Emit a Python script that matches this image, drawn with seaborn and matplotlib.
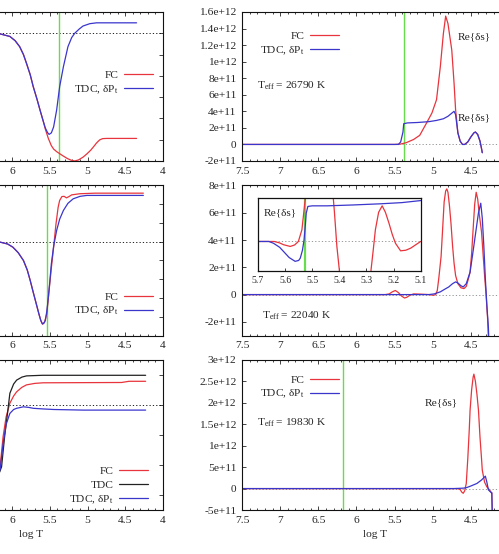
import matplotlib
matplotlib.use('Agg')
import matplotlib.pyplot as plt
import seaborn as sns
from matplotlib.ticker import MultipleLocator, FormatStrFormatter, FuncFormatter

#%%
# ------------------------------------------
#       Datos
# ------------------------------------------
# Columna izquierda (unidades arbitrarias, eje y fuera de la imagen)
iz1_logT_fc = [7.5, 6.6, 6.3, 6.16, 6.03, 5.96, 5.90, 5.85, 5.81, 5.76, 5.72, 5.67, 5.63, 5.59, 5.56, 5.52,
               5.48, 5.45, 5.41, 5.36, 5.32, 5.27, 5.22, 5.17, 5.12, 5.06, 5.01, 4.96, 4.92, 4.88, 4.84, 4.80,
               4.75, 4.35]
iz1_fc = [6.0, 6.0, 6.0, 5.97, 5.85, 5.65, 5.37, 5.0, 4.59, 4.05, 3.49, 2.9, 2.39, 1.9, 1.5, 1.06,
          0.72, 0.56, 0.44, 0.32, 0.23, 0.12, 0.04, 0.0, 0.05, 0.18, 0.33, 0.5, 0.67, 0.85, 0.99, 1.05,
          1.06, 1.06]
iz1_logT_tdc = [7.5, 6.6, 6.3, 6.16, 6.03, 5.96, 5.90, 5.85, 5.81, 5.76, 5.72, 5.67, 5.63, 5.59, 5.56, 5.53,
                5.51, 5.48, 5.45, 5.41, 5.37, 5.32, 5.26, 5.21, 5.17, 5.11, 5.06, 4.97, 4.88, 4.35]
iz1_tdc = [6.0, 6.0, 6.0, 5.97, 5.85, 5.65, 5.37, 5.0, 4.59, 4.05, 3.49, 2.9, 2.39, 1.9, 1.55, 1.33,
           1.25, 1.32, 1.6, 2.39, 3.49, 4.43, 5.37, 5.8, 6.0, 6.2, 6.34, 6.45, 6.49, 6.49]

iz2_logT_fc = [7.5, 6.5, 6.25, 6.16, 6.06, 5.99, 5.92, 5.85, 5.80, 5.76, 5.72, 5.68, 5.645, 5.62, 5.595, 5.57,
               5.54, 5.51, 5.48, 5.45, 5.42, 5.39, 5.37, 5.34, 5.31, 5.28, 5.25, 5.21, 5.1, 4.9, 4.26]
iz2_fc = [5.0, 5.0, 5.0, 4.98, 4.88, 4.71, 4.42, 4.0, 3.5, 2.93, 2.3, 1.69, 1.15, 0.8, 0.6, 0.72,
          1.16, 2.4, 3.6, 4.71, 5.9, 6.84, 7.2, 7.41, 7.42, 7.34, 7.4, 7.5, 7.56, 7.59, 7.59]
iz2_logT_tdc = [7.5, 6.5, 6.25, 6.16, 6.06, 5.99, 5.92, 5.85, 5.80, 5.76, 5.72, 5.68, 5.645, 5.62, 5.60, 5.58,
                5.56, 5.54, 5.52, 5.50, 5.48, 5.45, 5.41, 5.37, 5.32, 5.26, 5.19, 5.10, 5.01, 4.26]
iz2_tdc = [5.0, 5.0, 5.0, 4.98, 4.88, 4.71, 4.42, 4.0, 3.5, 2.93, 2.3, 1.69, 1.15, 0.8, 0.62, 0.65,
           0.8, 1.3, 2.04, 2.9, 3.82, 4.75, 5.6, 6.2, 6.67, 7.05, 7.29, 7.42, 7.47, 7.47]

iz3_logT_fc = [7.5, 6.4, 6.25, 6.16, 6.12, 6.08, 6.03, 5.98, 5.94, 5.87, 5.81, 5.7, 5.59, 4.55, 4.45, 4.23]
iz3_fc = [-0.3, -0.3, 0.2, 0.94, 1.94, 2.6, 3.06, 3.3, 3.44, 3.59, 3.67, 3.72, 3.74, 3.75, 3.79, 3.79]
iz3_logT_tdc = [7.5, 6.4, 6.25, 6.14, 6.10, 6.06, 6.03, 5.98, 5.94, 5.87, 5.81, 5.6, 4.23]
iz3_tdc = [-0.3, -0.3, 0.2, 0.94, 1.94, 2.75, 3.39, 3.7, 3.83, 3.93, 3.97, 3.99, 3.99]
iz3_logT_pt = [7.5, 6.4, 6.25, 6.16, 6.12, 6.08, 6.03, 5.98, 5.94, 5.85, 5.78, 5.72, 5.6, 5.45, 5.06, 4.23]
iz3_pt = [-0.3, -0.3, 0.2, 0.84, 1.7, 2.35, 2.72, 2.85, 2.89, 2.94, 2.92, 2.89, 2.87, 2.85, 2.83, 2.83]

# Columna derecha: Re{ds}
de1_logT_fc = [7.5, 5.5, 5.42, 5.35, 5.25, 5.17, 5.08, 5.01, 4.95, 4.90, 4.86, 4.83, 4.80, 4.75, 4.72, 4.70,
               4.67, 4.64, 4.61, 4.58, 4.54, 4.50, 4.46, 4.44, 4.41, 4.38, 4.36, 4.35]
de1_fc = [0, 0, 0.005e12, 0.02e12, 0.06e12, 0.11e12, 0.26e12, 0.38e12, 0.54e12, 0.94e12, 1.34e12, 1.55e12,
          1.46e12, 1.14e12, 0.74e12, 0.42e12, 0.14e12, 0.04e12, 0.0, 0.0, 0.03e12, 0.09e12, 0.14e12,
          0.15e12, 0.12e12, 0.04e12, -0.05e12, -0.1e12]
de1_logT_tdc = [7.5, 5.5, 5.45, 5.42, 5.39, 5.38, 5.33, 5.2, 5.05, 4.95, 4.86, 4.80, 4.76, 4.72, 4.70, 4.67,
                4.64, 4.61, 4.58, 4.54, 4.50, 4.46, 4.44, 4.41, 4.38, 4.36, 4.35]
de1_tdc = [0, 0, 0.0, 0.03e12, 0.15e12, 0.25e12, 0.26e12, 0.265e12, 0.275e12, 0.29e12, 0.31e12, 0.34e12,
           0.37e12, 0.40e12, 0.36e12, 0.14e12, 0.04e12, 0.0, 0.0, 0.03e12, 0.09e12, 0.14e12, 0.15e12,
           0.12e12, 0.04e12, -0.05e12, -0.1e12]

de2_logT_fc = [7.5, 5.62, 5.57, 5.53, 5.49, 5.45, 5.41, 5.37, 5.34, 5.30, 5.25, 5.15, 5.05, 4.99, 4.96, 4.94,
               4.92, 4.89, 4.87, 4.85, 4.83, 4.815, 4.80, 4.78, 4.76, 4.74, 4.72, 4.70, 4.67, 4.63, 4.59,
               4.56, 4.53, 4.51, 4.49, 4.47, 4.45, 4.43, 4.41, 4.39, 4.36, 4.34, 4.32, 4.30, 4.28, 4.27]
de2_fc = [0, 0, 0.05e11, 0.2e11, 0.3e11, 0.15e11, -0.1e11, -0.25e11, -0.2e11, -0.05e11, 0.05e11, 0.03e11,
          0.0, -0.05e11, 0.0, 0.3e11, 1.2e11, 2.8e11, 4.8e11, 6.8e11, 7.6e11, 7.75e11, 7.5e11, 6.5e11,
          5.2e11, 3.6e11, 2.3e11, 1.4e11, 0.8e11, 0.5e11, 0.44e11, 0.6e11, 1.2e11, 1.65e11, 3.0e11,
          4.8e11, 6.6e11, 7.5e11, 7.0e11, 5.9e11, 4.6e11, 3.0e11, 1.4e11, 0.0, -1.8e11, -3.2e11]
de2_logT_tdc = [7.5, 5.05, 4.98, 4.90, 4.84, 4.79, 4.74, 4.70, 4.67, 4.63, 4.60, 4.56, 4.51, 4.47, 4.43,
                4.40, 4.37, 4.35, 4.33, 4.31, 4.29, 4.27, 4.265]
de2_tdc = [0, 0, 0.05e11, 0.2e11, 0.4e11, 0.56e11, 0.8e11, 0.93e11, 0.85e11, 0.65e11, 0.56e11, 0.8e11,
           1.65e11, 3.2e11, 4.8e11, 6.0e11, 6.7e11, 5.6e11, 3.6e11, 1.2e11, -0.8e11, -2.4e11, -3.2e11]

# inset del panel central (zoom cerca de la zona de conveccion)
ins_logT_fc = [5.7, 5.64, 5.62, 5.606, 5.581, 5.565, 5.551, 5.538, 5.526, 5.515, 5.435, 5.425, 5.418, 5.409,
               5.40, 5.39, 5.29, 5.283, 5.275, 5.267, 5.255, 5.242, 5.23, 5.217, 5.205, 5.193, 5.174, 5.155,
               5.137, 5.1]
ins_fc = [0, 0, -0.05, -0.11, -0.17, -0.12, 0.0, 0.4, 1.43, 3.0, 3.0, 1.8, 1.0, -0.17, -0.97, -2.5, -2.5,
          -0.97, -0.3, 0.4, 1.0, 1.22, 1.0, 0.63, 0.25, -0.06, -0.32, -0.3, -0.23, 0.0]
ins_logT_tdc = [5.7, 5.66, 5.643, 5.62, 5.606, 5.585, 5.563, 5.55, 5.544, 5.536, 5.530, 5.525, 5.522, 5.516,
                5.5, 5.446, 5.35, 5.248, 5.17, 5.1]
ins_tdc = [0, 0, -0.06, -0.2, -0.34, -0.55, -0.68, -0.65, -0.57, -0.3, 0.06, 0.6, 0.97, 1.2, 1.22, 1.22,
           1.25, 1.29, 1.33, 1.4]

de3_logT_fc = [7.5, 4.68, 4.64, 4.62, 4.60, 4.58, 4.56, 4.54, 4.52, 4.51, 4.49, 4.47, 4.46, 4.44, 4.42, 4.40,
               4.38, 4.36, 4.35, 4.32, 4.29, 4.26, 4.24, 4.225, 4.22]
de3_fc = [0, 0, -0.02e12, -0.08e12, -0.11e12, -0.05e12, 0.12e12, 0.7e12, 1.4e12, 1.83e12, 2.3e12, 2.6e12,
          2.67e12, 2.5e12, 2.2e12, 1.83e12, 1.2e12, 0.7e12, 0.43e12, 0.15e12, 0.04e12, -0.02e12, -0.07e12,
          -0.1e12, -0.5e12]
de3_logT_tdc = [7.5, 4.72, 4.6, 4.56, 4.5, 4.42, 4.36, 4.31, 4.29, 4.27, 4.23, 4.225, 4.22]
de3_tdc = [0, 0, 0.01e12, 0.02e12, 0.06e12, 0.12e12, 0.2e12, 0.29e12, 0.15e12, -0.03e12, -0.1e12, -0.1e12,
           -0.5e12]

teff = ['26790', '22040', '19830']
green_logT = [5.375, 5.535, 6.18]
green_inset = 5.525
dotted_izq = [6, 5, 3]

#%%
sns.set_style('ticks')
plt.rcParams['font.family'] = ['Liberation Serif', 'DejaVu Serif']
plt.rcParams['mathtext.fontset'] = 'custom'
plt.rcParams['mathtext.rm'] = 'Liberation Serif'
plt.rcParams['mathtext.it'] = 'Liberation Serif:italic'
FS = 8.2
ROJO, AZUL, NEGRO, VERDE = '#e8343c', '#3a36cc', '#222222', '#66dd4c'
LAB_PT = 'TDC, δP$_{\\rm t}$'

fig = plt.figure(figsize=(4.99, 5.54), dpi=100)
filas = [(0.7094, 0.269), (0.3944, 0.2708), (0.0794, 0.2708)]
ax_izq = [fig.add_axes([-0.2024, b, 0.529, h]) for b, h in filas]
ax_der = [fig.add_axes([0.485, b, 0.535, h]) for b, h in filas]


def curva(ax, x, y, color, label=None):
    sns.lineplot(x=x, y=y, ax=ax, color=color, lw=0.9, sort=False, estimator=None,
                 label=label, legend=False)


def estilo(ax):
    ax.set_xlim(7.5, 4)
    ax.xaxis.set_major_locator(MultipleLocator(0.5))
    ax.xaxis.set_minor_locator(MultipleLocator(0.1))
    ax.tick_params(which='both', direction='in', top=True, right=True, labelsize=FS, width=0.6, pad=4)
    ax.tick_params(which='major', length=3)
    ax.tick_params(which='minor', length=1.5)
    for s in ax.spines.values():
        s.set_linewidth(0.8)
        s.set_color('#111111')


def leyenda(ax, x, y):
    ax.legend(loc='center right', bbox_to_anchor=(x, y), frameon=False, markerfirst=False,
              fontsize=FS, handlelength=2.5, handletextpad=0.5, labelspacing=0.3,
              borderpad=0, borderaxespad=0)


# las dos columnas estan recortadas: solo se escriben las etiquetas que se ven
visibles_izq = FuncFormatter(lambda v, pos: '' if v > 6.1 else '%g' % v)
visibles_der = FuncFormatter(lambda v, pos: '' if v < 4.1 else '%g' % v)

#%% Columna izquierda
datos_izq = [[(iz1_logT_fc, iz1_fc, ROJO, 'FC'), (iz1_logT_tdc, iz1_tdc, AZUL, LAB_PT)],
             [(iz2_logT_fc, iz2_fc, ROJO, 'FC'), (iz2_logT_tdc, iz2_tdc, AZUL, LAB_PT)],
             [(iz3_logT_fc, iz3_fc, ROJO, 'FC'), (iz3_logT_tdc, iz3_tdc, NEGRO, 'TDC'),
              (iz3_logT_pt, iz3_pt, AZUL, LAB_PT)]]
ylims_izq = [(0, 7), (0, 8), (-0.5, 4.5)]
leg_izq = [(0.962, 0.523), (0.962, 0.207), (0.943, 0.16)]
for i, ax in enumerate(ax_izq):
    ax.axhline(dotted_izq[i], color='black', ls=(0, (1.5, 2.5)), lw=0.6, zorder=1)
    if i < 2:
        ax.axvline(green_logT[i], color=VERDE, lw=1.0, zorder=1)
    for x, y, c, lab in datos_izq[i]:
        curva(ax, x, y, c, lab)
    estilo(ax)
    ax.xaxis.set_major_formatter(visibles_izq)
    ax.set_ylim(*ylims_izq[i])
    ax.yaxis.set_major_locator(MultipleLocator(1))
    ax.tick_params(axis='y', labelleft=False)
    leyenda(ax, *leg_izq[i])

#%% Columna derecha
datos_der = [[(de1_logT_fc, de1_fc, ROJO, 'FC'), (de1_logT_tdc, de1_tdc, AZUL, LAB_PT)],
             [(de2_logT_fc, de2_fc, ROJO, None), (de2_logT_tdc, de2_tdc, AZUL, None)],
             [(de3_logT_fc, de3_fc, ROJO, 'FC'), (de3_logT_tdc, de3_tdc, AZUL, LAB_PT)]]
ylims_der = [(-2e11, 1.6e12), (-3e11, 8e11), (-5e11, 3e12)]
paso_der = [2e11, 2e11, 5e11]
teff_pos = [(7.30, 0.706e12), (7.24, -1.53e11), (7.31, 1.53e12)]
for i, ax in enumerate(ax_der):
    ax.axhline(0, color='#888888', ls=(0, (1.5, 2.5)), lw=0.6, zorder=1)
    if i != 1:
        ax.axvline(green_logT[i], color=VERDE, lw=1.0, zorder=1)
    for x, y, c, lab in datos_der[i]:
        curva(ax, x, y, c, lab)
    estilo(ax)
    ax.xaxis.set_major_formatter(visibles_der)
    ax.set_ylim(*ylims_der[i])
    ax.yaxis.set_major_locator(MultipleLocator(paso_der[i]))
    ax.yaxis.set_major_formatter(FormatStrFormatter('%g'))
    ax.text(teff_pos[i][0], teff_pos[i][1], 'T$_{\\rm eff}$ = ' + teff[i] + ' K', fontsize=FS, va='center')

leyenda(ax_der[0], 0.363, 0.785)
leg = ax_der[1].get_legend()
if leg is not None:
    leg.remove()
leyenda(ax_der[2], 0.363, 0.817)
ax_der[0].text(4.67, 1.30e12, 'Re{δs}', fontsize=FS, va='center')
ax_der[0].text(4.67, 0.32e12, 'Re{δs}', fontsize=FS, va='center')
ax_der[2].text(5.10, 2.0e12, 'Re{δs}', fontsize=FS, va='center')

for ax in ax_izq[2], ax_der[2]:
    ax.set_xlabel('log T', fontsize=FS, labelpad=4)

#%% Inset
ax_in = fig.add_axes([0.517, 0.5114, 0.326, 0.1318])
ax_in.axhline(0, color='#888888', ls=(0, (1.5, 2.5)), lw=0.6, zorder=1)
ax_in.axvline(green_inset, color=VERDE, lw=1.6, zorder=1)
curva(ax_in, ins_logT_fc, ins_fc, ROJO)
curva(ax_in, ins_logT_tdc, ins_tdc, AZUL)
ax_in.set_xlim(5.7, 5.1)
ax_in.set_ylim(-1, 1.5)
ax_in.xaxis.set_major_locator(MultipleLocator(0.1))
ax_in.xaxis.set_major_formatter(FormatStrFormatter('%g'))
ax_in.set_yticks([])
ax_in.tick_params(axis='x', direction='in', labelsize=7, length=2.5, width=0.6, pad=4)
for s in ax_in.spines.values():
    s.set_linewidth(0.9)
    s.set_color('#111111')
ax_in.text(5.68, 0.98, 'Re{δs}', fontsize=FS, va='center')

fig.savefig('out.png', dpi=100)
